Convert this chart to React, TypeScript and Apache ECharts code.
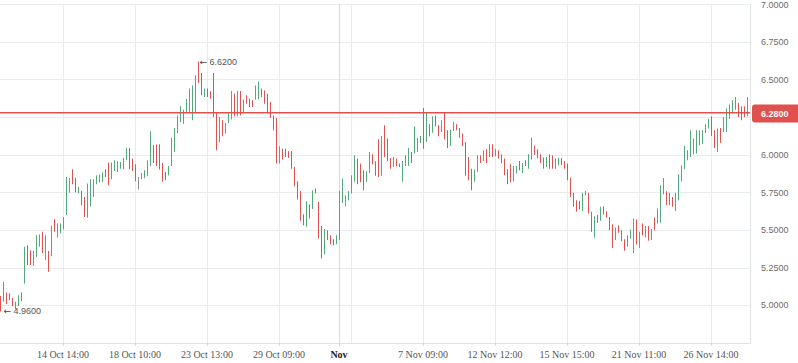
import React, { useEffect, useRef } from 'react';
import * as echarts from 'echarts';

// Bar highs / lows (one per bar, oldest first)
const highs = [
  5.062, 5.155, 5.086, 5.081, 5.05, 5.024, 5.068, 5.086, 5.389, 5.40,
  5.367, 5.361, 5.467, 5.471, 5.489, 5.467, 5.361, 5.529, 5.573, 5.545,
  5.545, 5.588, 5.854, 5.847, 5.905, 5.847, 5.787, 5.761, 5.721, 5.81,
  5.838, 5.838, 5.865, 5.87, 5.883, 5.905, 5.949, 5.949, 5.965, 5.958,
  5.953, 5.98, 6.046, 6.046, 5.976, 5.938, 5.854, 5.88, 5.898, 5.965,
  6.157, 6.064, 6.069, 6.071, 5.947, 5.887, 5.927, 6.113, 6.177, 6.263,
  6.323, 6.301, 6.372, 6.441, 6.462, 6.529, 6.62, 6.544, 6.441, 6.441,
  6.423, 6.544, 6.279, 6.252, 6.23, 6.212, 6.275, 6.425, 6.407, 6.425,
  6.425, 6.368, 6.396, 6.374, 6.363, 6.462, 6.489, 6.441, 6.429, 6.407,
  6.352, 6.263, 6.245, 6.058, 6.042, 6.042, 6.026, 6.026, 5.92, 5.825,
  5.761, 5.606, 5.692, 5.673, 5.765, 5.777, 5.688, 5.527, 5.507, 5.5,
  5.467, 5.44, 5.467, 5.761, 5.843, 5.732, 5.761, 5.865, 5.998, 5.976,
  5.943, 5.898, 5.892, 6.02, 6.004, 5.958, 6.104, 6.126, 6.197, 6.109,
  5.98, 5.986, 5.976, 5.943, 5.96, 5.998, 6.046, 6.02, 6.19, 6.115,
  6.126, 6.312, 6.279, 6.204, 6.257, 6.263, 6.197, 6.23, 6.279, 6.164,
  6.168, 6.219, 6.204, 6.179, 6.142, 6.086, 5.986, 5.909, 5.903, 5.998,
  5.998, 6.031, 6.038, 6.071, 6.071, 6.042, 6.031, 6.004, 5.976, 5.905,
  5.938, 5.927, 5.927, 5.96, 5.947, 5.965, 6.004, 6.115, 6.059, 6.038,
  6.004, 5.983, 5.986, 6.004, 5.998, 5.976, 5.98, 5.98, 5.96, 5.943,
  5.847, 5.748, 5.699, 5.695, 5.748, 5.761, 5.748, 5.622, 5.593, 5.6,
  5.655, 5.659, 5.626, 5.588, 5.54, 5.518, 5.533, 5.5, 5.44, 5.467,
  5.505, 5.578, 5.571, 5.489, 5.545, 5.527, 5.527, 5.507, 5.584, 5.644,
  5.799, 5.847, 5.759, 5.748, 5.721, 5.748, 5.872, 5.931, 6.059, 6.031,
  6.164, 6.109, 6.164, 6.164, 6.164, 6.204, 6.241, 6.257, 6.164, 6.175,
  6.179, 6.252, 6.308, 6.336, 6.363, 6.385, 6.345, 6.323, 6.323, 6.385,
];

const lows = [
  4.96, 5.024, 5.009, 5.035, 4.996, 4.975, 4.996, 5.03, 5.146, 5.268,
  5.268, 5.261, 5.322, 5.389, 5.349, 5.301, 5.223, 5.327, 5.489, 5.452,
  5.478, 5.505, 5.60, 5.748, 5.805, 5.752, 5.744, 5.666, 5.588, 5.582,
  5.659, 5.721, 5.805, 5.817, 5.821, 5.854, 5.799, 5.838, 5.894, 5.887,
  5.909, 5.905, 5.965, 5.905, 5.894, 5.825, 5.77, 5.838, 5.845, 5.858,
  5.927, 5.947, 5.927, 5.903, 5.821, 5.832, 5.865, 5.927, 6.02, 6.146,
  6.219, 6.208, 6.279, 6.279, 6.23, 6.279, 6.478, 6.396, 6.385, 6.385,
  6.374, 6.252, 6.031, 6.086, 6.124, 6.142, 6.212, 6.235, 6.257, 6.257,
  6.263, 6.285, 6.341, 6.318, 6.318, 6.368, 6.37, 6.385, 6.341, 6.275,
  6.248, 6.164, 5.943, 5.943, 5.969, 5.986, 5.98, 5.909, 5.792, 5.704,
  5.562, 5.533, 5.522, 5.578, 5.641, 5.744, 5.445, 5.312, 5.339, 5.434,
  5.407, 5.40, 5.407, 5.434, 5.681, 5.659, 5.699, 5.744, 5.821, 5.805,
  5.819, 5.765, 5.821, 5.88, 5.938, 5.861, 5.854, 5.861, 5.986, 5.96,
  5.909, 5.92, 5.925, 5.92, 5.821, 5.927, 5.927, 5.947, 6.009, 6.02,
  6.079, 6.042, 6.086, 6.124, 6.148, 6.19, 6.124, 6.152, 6.102, 6.046,
  6.059, 6.159, 6.164, 6.115, 6.059, 5.861, 5.832, 5.765, 5.821, 5.887,
  5.947, 5.958, 5.947, 5.986, 5.986, 5.991, 5.976, 5.943, 5.865, 5.805,
  5.819, 5.825, 5.876, 5.898, 5.88, 5.927, 5.909, 5.969, 6.002, 5.976,
  5.947, 5.909, 5.92, 5.909, 5.909, 5.909, 5.931, 5.931, 5.909, 5.832,
  5.721, 5.655, 5.622, 5.637, 5.628, 5.732, 5.611, 5.489, 5.449, 5.549,
  5.562, 5.606, 5.584, 5.5, 5.382, 5.434, 5.482, 5.427, 5.363, 5.389,
  5.445, 5.349, 5.405, 5.382, 5.467, 5.452, 5.429, 5.434, 5.5, 5.545,
  5.549, 5.739, 5.666, 5.666, 5.655, 5.628, 5.699, 5.825, 5.905, 5.965,
  5.986, 6.004, 6.009, 6.064, 6.075, 6.146, 6.175, 6.126, 6.046, 6.02,
  6.079, 6.152, 6.152, 6.241, 6.281, 6.301, 6.252, 6.23, 6.252, 6.257,
];

// u = closed up (green), d = closed down (red), f = unchanged (grey)
const directions =
  'duddduudud' + 'duuudududf' + 'uuuudduddu' + 'uuuuudduuu' + 'uuudddfuuu' +
  'uddddduuuu' + 'uuuuuuddud' + 'ddduduuudu' + 'duddduuddd' + 'dddudddddd' +
  'ddududddud' + 'dduuufuuud' + 'dduudddudd' + 'dudduuuduu' + 'udududdudd' +
  'uudddddduu' + 'dudududddd' + 'duududuudd' + 'ddudduuddd' + 'dddduuddud' +
  'uddddudddu' + 'uududududu' + 'uuddduuuuu' + 'uuuuuuuddu' + 'duuuuudddu';

// one slot per bar plus one empty slot at the right edge
const categories = Array.from({ length: highs.length + 1 }, (_, i) => String(i));

const tickIndex = [21, 45, 69, 93, 113, 141, 165, 189, 213, 237];
const tickText = [
  '14 Oct 14:00', '18 Oct 10:00', '23 Oct 13:00', '29 Oct 09:00', 'Nov',
  '7 Nov 09:00', '12 Nov 12:00', '15 Nov 15:00', '21 Nov 11:00', '26 Nov 14:00',
];
const monthIndex = 113;
const unlabeledGridIndex = [117];

const lastPrice = 6.28;
const maxHigh = { index: 66, value: 6.62 };
const minLow = { index: 0, value: 4.96 };

const UP = '#53a97b';
const DOWN = '#e0524f';
const FLAT = '#8c8c8c';
const LINE_RED = '#e0504c';
const GRID = '#e9ecef';
const MONTH_LINE = '#d6dadf';

export default function App() {
  const ref = useRef<HTMLDivElement>(null);

  useEffect(() => {
    document.body.style.margin = '0';
    if (!ref.current) return;
    const chart = echarts.init(ref.current, undefined, { renderer: 'svg' });

    const data = highs.map((h, i) => {
      const c = directions.charAt(i);
      return [i, lows[i], h, c === 'u' ? 1 : c === 'd' ? -1 : 0];
    });

    const isTick = (i: number) => tickIndex.indexOf(i) >= 0;
    const isGrid = (i: number) =>
      (isTick(i) && i !== monthIndex) || unlabeledGridIndex.indexOf(i) >= 0;

    const sans = 'Liberation Sans';
    const pointLabel = (v: number, dist: number) => ({
      show: true,
      position: 'right',
      distance: dist,
      formatter: '{a|\u2190} ' + v.toFixed(4),
      fontFamily: sans,
      fontSize: 9,
      color: '#555',
      rich: {
        a: { fontFamily: 'DejaVu Sans', fontSize: 9, color: '#444' },
      },
    });

    chart.setOption({
      animation: false,
      grid: { left: 0, right: 48, top: 4, bottom: 20, containLabel: false },
      xAxis: {
        type: 'category',
        data: categories,
        boundaryGap: false,
        axisLine: { show: true, lineStyle: { color: '#dfe3e7' } },
        axisTick: {
          show: true,
          length: 3,
          interval: (i: number) => isTick(i),
          lineStyle: { color: '#d5d9de' },
        },
        splitLine: {
          show: true,
          interval: (i: number) => isGrid(i),
          lineStyle: { color: GRID, width: 1 },
        },
        axisLabel: {
          interval: (i: number) => isTick(i),
          margin: 6,
          fontFamily: 'Liberation Serif',
          fontSize: 10,
          color: '#555',
          formatter: (_v: string, i: number) => {
            const k = tickIndex.indexOf(i);
            if (k < 0) return '';
            if (i === monthIndex) return '{m|' + tickText[k] + '}';
            return tickText[k];
          },
          rich: {
            m: { fontFamily: 'Liberation Serif', fontSize: 10, fontWeight: 'bold', color: '#222' },
          },
        },
      },
      yAxis: {
        type: 'value',
        position: 'right',
        min: 4.75,
        max: 7,
        interval: 0.25,
        axisLine: { show: true, lineStyle: { color: '#dfe3e7' } },
        axisTick: { show: false },
        splitLine: { show: true, lineStyle: { color: GRID, width: 1 } },
        axisLabel: {
          showMinLabel: false,
          margin: 11,
          fontFamily: sans,
          fontSize: 9,
          color: '#6b6b6b',
          // the 6.2500 label sits under the last-price tag
          formatter: (v: number) => (Math.abs(v - 6.25) < 1e-6 ? '' : v.toFixed(4)),
        },
      },
      series: [
        {
          // month boundary line
          type: 'custom',
          data: [[monthIndex]],
          encode: { x: 0 },
          silent: true,
          z: 1,
          renderItem: (params: any, api: any) => {
            const cs = params.coordSys;
            const x = Math.round(api.coord([api.value(0), lastPrice])[0]) + 0.5;
            return {
              type: 'line',
              shape: { x1: x, y1: cs.y, x2: x, y2: cs.y + cs.height },
              style: { stroke: MONTH_LINE, lineWidth: 1 },
            };
          },
        },
        {
          type: 'custom',
          data,
          encode: { x: 0, y: [1, 2] },
          clip: true,
          z: 2,
          renderItem: (_params: any, api: any) => {
            const i = api.value(0);
            const lo = api.value(1);
            const hi = api.value(2);
            const d = api.value(3);
            const top = api.coord([i, hi]);
            const bot = api.coord([i, lo]);
            const x = Math.round(top[0]);
            return {
              type: 'rect',
              shape: { x, y: top[1], width: 1, height: Math.max(1, bot[1] - top[1]) },
              style: { fill: d > 0 ? UP : d < 0 ? DOWN : FLAT },
            };
          },
          markPoint: {
            silent: true,
            symbol: 'circle',
            symbolSize: 1,
            itemStyle: { color: 'rgba(0,0,0,0)' },
            data: [
              { coord: [maxHigh.index, maxHigh.value], label: pointLabel(maxHigh.value, 1) },
              { coord: [minLow.index, minLow.value], label: pointLabel(minLow.value, 3) },
            ],
          },
        },
        {
          // last price line with its tag on the price scale
          type: 'custom',
          data: [[0, lastPrice]],
          encode: { y: 1 },
          silent: true,
          clip: false,
          z: 3,
          renderItem: (params: any, api: any) => {
            const cs = params.coordSys;
            const yc = api.coord([0, api.value(1)])[1];
            return {
              type: 'group',
              children: [
                {
                  type: 'rect',
                  shape: { x: cs.x, y: yc - 0.75, width: cs.width, height: 1.5 },
                  style: { fill: LINE_RED },
                },
                {
                  type: 'rect',
                  shape: { x: cs.x + cs.width + 2, y: Math.round(yc) - 8.5, width: 60, height: 18, r: [3, 0, 0, 3] },
                  style: { fill: LINE_RED },
                },
                {
                  type: 'text',
                  x: cs.x + cs.width + 11,
                  y: Math.round(yc) + 0.5,
                  style: {
                    text: Number(api.value(1)).toFixed(4),
                    fill: '#fff',
                    font: 'bold 9px "Liberation Sans"',
                    verticalAlign: 'middle',
                    align: 'left',
                  },
                },
              ],
            };
          },
        },
      ],
    });

    return () => chart.dispose();
  }, []);

  return <div ref={ref} style={{ width: 798, height: 363 }} />;
}
